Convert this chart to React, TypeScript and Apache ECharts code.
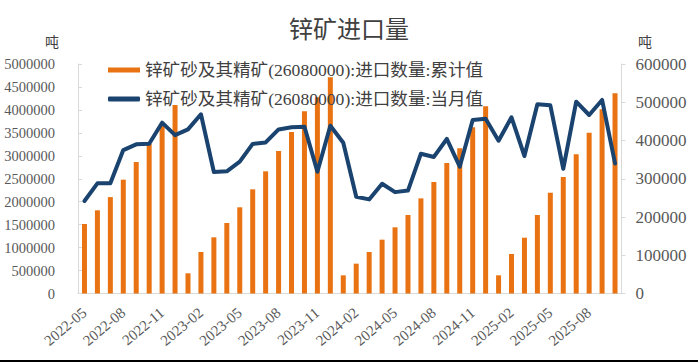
import React, { useEffect, useRef } from "react";
import * as echarts from "echarts";

const months: string[] = [
  "2022-05", "2022-06", "2022-07", "2022-08", "2022-09", "2022-10", "2022-11", "2022-12",
  "2023-01", "2023-02", "2023-03", "2023-04", "2023-05", "2023-06", "2023-07", "2023-08",
  "2023-09", "2023-10", "2023-11", "2023-12",
  "2024-01", "2024-02", "2024-03", "2024-04", "2024-05", "2024-06", "2024-07", "2024-08",
  "2024-09", "2024-10", "2024-11", "2024-12",
  "2025-01", "2025-02", "2025-03", "2025-04", "2025-05", "2025-06", "2025-07", "2025-08",
  "2025-09", "2025-10",
];

const cumulative: number[] = [
  1514000, 1813000, 2100000, 2480000, 2865000, 3257000, 3650000, 4107000,
  440000, 904000, 1224000, 1536000, 1878000, 2270000, 2662000, 3105000,
  3518000, 3969000, 4274000, 4710000,
  396000, 650000, 904000, 1173000, 1442000, 1710000, 2073000, 2429000,
  2843000, 3163000, 3620000, 4078000,
  396000, 860000, 1216000, 1710000, 2196000, 2538000, 3032000, 3503000,
  4013000, 4361000,
];

const monthly: number[] = [
  241800, 288000, 288000, 375000, 390000, 391700, 446600, 414000,
  429000, 468500, 317600, 319500, 344600, 391000, 395000, 429000,
  434500, 436000, 318500, 438700,
  394000, 253000, 246000, 287000, 265000, 269000, 365500, 357000,
  404000, 331500, 453600, 457000,
  399500, 460600, 359500, 494600, 492000, 326000, 501500, 466700,
  506000, 340000,
];

const seriesNames: string[] = [
  "锌矿砂及其精矿(26080000):进口数量:累计值",
  "锌矿砂及其精矿(26080000):进口数量:当月值",
];

const title = "锌矿进口量";
const unit = "吨";

const numFont = "Liberation Serif, DejaVu Serif, serif";
const txtFont = "Liberation Serif, Noto Sans CJK SC, serif";

export default function App() {
  const ref = useRef<HTMLDivElement>(null);
  useEffect(() => {
    if (!ref.current) return;
    const chart = echarts.init(ref.current, undefined, { renderer: "svg" });
    const axisGray = "#d9d9d9";
    const labelGray = "#595959";
    const plain = (v: number) => String(v);
    chart.setOption({
      animation: false,
      backgroundColor: "#ffffff",
      title: {
        text: title,
        left: "center",
        top: 10,
        textStyle: {
          fontFamily: "Noto Sans CJK SC, sans-serif",
          fontSize: 24,
          fontWeight: "normal",
          color: "#404040",
        },
      },
      legend: {
        orient: "vertical",
        left: 103,
        top: 55,
        itemWidth: 32,
        itemHeight: 5,
        itemGap: 9,
        data: [
          { name: seriesNames[0], icon: "rect" },
          { name: seriesNames[1], icon: "roundRect" },
        ],
        textStyle: {
          fontFamily: txtFont,
          fontSize: 17.6,
          lineHeight: 20,
          color: "#404040",
        },
      },
      grid: { left: 78, right: 76.5, top: 64, bottom: 68.5 },
      xAxis: {
        type: "category",
        data: months,
        boundaryGap: true,
        axisLine: { lineStyle: { color: axisGray, width: 1 } },
        axisTick: { interval: 2, length: 4, lineStyle: { color: axisGray } },
        axisLabel: {
          interval: 2,
          rotate: 40,
          margin: 17,
          fontFamily: numFont,
          fontSize: 15,
          color: labelGray,
        },
      },
      yAxis: [
        {
          type: "value",
          min: 0,
          max: 5000000,
          interval: 500000,
          splitLine: { show: false },
          axisLine: { show: true, lineStyle: { color: axisGray } },
          axisTick: { show: true, inside: true, length: 4, lineStyle: { color: axisGray } },
          axisLabel: {
            margin: 23,
            formatter: plain,
            fontFamily: numFont,
            fontSize: 14.5,
            color: labelGray,
          },
        },
        {
          type: "value",
          min: 0,
          max: 600000,
          interval: 100000,
          position: "right",
          splitLine: { show: false },
          axisLine: { show: true, lineStyle: { color: axisGray } },
          axisTick: { show: true, inside: false, length: 4, lineStyle: { color: axisGray } },
          axisLabel: {
            margin: 14,
            formatter: plain,
            fontFamily: numFont,
            fontSize: 17,
            color: labelGray,
          },
        },
      ],
      series: [
        {
          name: seriesNames[0],
          type: "bar",
          yAxisIndex: 0,
          data: cumulative,
          barWidth: 5,
          itemStyle: { color: "#E97312" },
        },
        {
          name: seriesNames[1],
          type: "line",
          yAxisIndex: 1,
          data: monthly,
          symbol: "none",
          lineStyle: { color: "#1A446F", width: 4, join: "round", cap: "round" },
          itemStyle: { color: "#1A446F" },
        },
      ],
      graphic: [
        {
          type: "text",
          left: 45,
          top: 34,
          style: { text: unit, fontFamily: "Noto Sans CJK SC, sans-serif", fontSize: 14, fill: "#404040" },
        },
        {
          type: "text",
          left: 638,
          top: 34,
          style: { text: unit, fontFamily: "Noto Sans CJK SC, sans-serif", fontSize: 14, fill: "#404040" },
        },
        {
          type: "rect",
          left: 0,
          top: 360,
          shape: { width: 698, height: 2 },
          style: { fill: "#000000" },
        },
      ],
    });
    return () => chart.dispose();
  }, []);
  return (
    <div
      ref={ref}
      style={{ position: "fixed", left: 0, top: 0, width: 698, height: 362 }}
    />
  );
}
